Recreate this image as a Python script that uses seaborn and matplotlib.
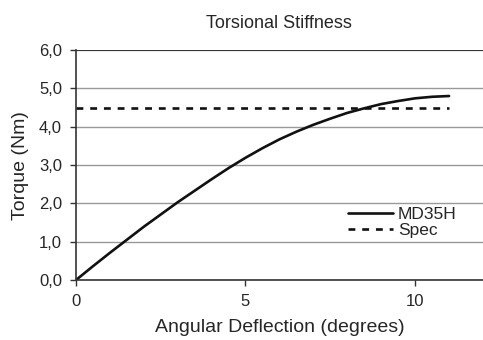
import numpy as np
import pandas as pd
import seaborn as sns
import matplotlib.pyplot as plt
from matplotlib.ticker import FuncFormatter

# Data
deflection = [0, 0.5, 1, 1.5, 2, 2.5, 3, 3.5, 4, 4.5, 5, 5.5,
              6, 6.5, 7, 7.5, 8, 8.5, 9, 9.5, 10, 10.5, 11]
torque_md35h = [0.0, 0.36, 0.71, 1.05, 1.39, 1.71, 2.03, 2.33, 2.63, 2.92, 3.19, 3.44,
                3.67, 3.87, 4.05, 4.21, 4.36, 4.48, 4.59, 4.67, 4.74, 4.78, 4.80]
spec_x = [0, 11]
spec_y = [4.5, 4.5]

df = pd.DataFrame({"deflection": deflection, "torque": torque_md35h})
spec = pd.DataFrame({"deflection": spec_x, "torque": spec_y})

sns.set_style("white")
plt.rcParams["font.family"] = ["Liberation Sans", "DejaVu Sans"]

fig = plt.figure(figsize=(4.83, 3.40), dpi=100)
ax = fig.add_axes([0.157, 0.176, 0.843, 0.677])

sns.lineplot(data=df, x="deflection", y="torque", ax=ax, color="#111111",
             linewidth=1.9, label="MD35H")
sns.lineplot(data=spec, x="deflection", y="torque", ax=ax, color="#111111",
             linewidth=1.9, linestyle=(0, (2.6, 2.6)), label="Spec")

ax.set_xlim(0, 12)
ax.set_ylim(0, 6)
ax.set_xticks([0, 5, 10])
ax.set_yticks(np.arange(0, 7, 1))
ax.yaxis.set_major_formatter(FuncFormatter(lambda v, p: f"{v:.1f}".replace(".", ",")))
ax.grid(axis="y", color="#999999", linewidth=1)
ax.axhline(6, color="#222222", linewidth=1.2)
ax.set_axisbelow(True)

for side in ["top", "right"]:
    ax.spines[side].set_visible(False)
for side in ["left", "bottom"]:
    ax.spines[side].set_color("#333333")
    ax.spines[side].set_linewidth(1.2)

ax.tick_params(axis="both", direction="out", length=4, width=1, color="#333333",
               labelsize=12, pad=6, left=True, bottom=True)
ax.set_xlabel("Angular Deflection (degrees)", fontsize=14, labelpad=7)
ax.set_ylabel("Torque (Nm)", fontsize=14, labelpad=7)
ax.set_title("Torsional Stiffness", fontsize=13, pad=16)

ax.legend(loc="lower right", bbox_to_anchor=(0.957, 0.145), frameon=False,
          fontsize=12.5, handlelength=2.6, handletextpad=0.3, labelspacing=0.05,
          borderpad=0)

fig.savefig("out.png", dpi=100)
